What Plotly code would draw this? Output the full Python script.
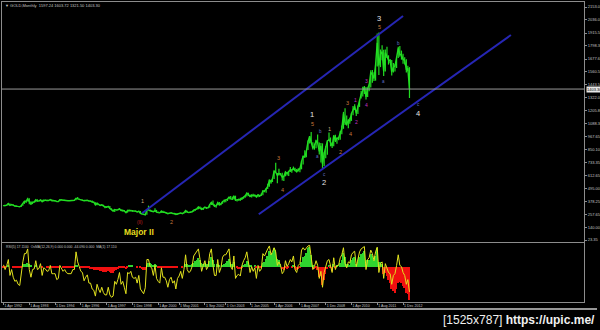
import pandas as pd
import plotly.graph_objects as go

# ---------------- DATA ----------------
dates = pd.date_range("1992-04-01", periods=253, freq="MS")

close = [
    337, 337, 343, 357, 340, 349, 339, 334, 333,
    330, 327, 337, 354, 378, 378, 401, 372, 355, 369, 371, 391,
    379, 381, 391, 376, 387, 386, 384, 385, 394, 383, 383, 383,
    375, 376, 392, 389, 385, 387, 384, 383, 383, 383, 387, 387,
    405, 400, 396, 392, 391, 382, 385, 387, 379, 379, 371, 369,
    345, 358, 349, 340, 345, 334, 326, 325, 332, 311, 296, 290,
    303, 297, 301, 308, 294, 296, 288, 273, 293, 292, 294, 288,
    287, 288, 280, 286, 268, 261, 255, 254, 299, 299, 291, 290,
    283, 293, 278, 274, 272, 288, 277, 277, 273, 264, 270, 273,
    265, 267, 258, 264, 266, 271, 265, 273, 293, 279, 275, 277,
    282, 297, 302, 309, 326, 318, 304, 313, 324, 316, 319, 347,
    368, 348, 335, 336, 364, 346, 354, 376, 385, 386, 398, 417,
    400, 396, 427, 388, 393, 395, 391, 407, 416, 428, 453, 438,
    422, 435, 428, 435, 418, 436, 429, 433, 473, 470, 495, 513,
    569, 556, 583, 654, 643, 614, 633, 623, 599, 604, 646, 632,
    650, 665, 662, 680, 659, 650, 666, 673, 743, 789, 783, 834,
    923, 972, 916, 864, 887, 928, 912, 833, 884, 718, 816, 882,
    928, 942, 917, 883, 979, 927, 955, 955, 1001, 1040, 1180, 1096,
    1081, 1118, 1113, 1180, 1212, 1244, 1181, 1246, 1307, 1357, 1386, 1421,
    1333, 1411, 1439, 1556, 1536, 1500, 1628, 1826, 1620, 1722, 1746, 1564,
    1737, 1697, 1668, 1664, 1559, 1604, 1614, 1692, 1774, 1719, 1714, 1675,
    1663, 1578, 1595, 1403.30,
]

high = [
    342, 341, 345, 362, 358, 352, 350, 341, 338,
    334, 333, 339, 358, 380, 381, 409, 406, 377, 372, 378, 392,
    396, 387, 393, 392, 391, 395, 392, 390, 397, 397, 391, 385,
    382, 378, 394, 396, 392, 392, 389, 386, 387, 387, 389, 389,
    406, 416, 402, 398, 394, 392, 388, 389, 389, 385, 384, 373,
    369, 366, 356, 347, 349, 345, 335, 331, 335, 335, 314, 300,
    306, 302, 303, 315, 305, 299, 297, 289, 300, 302, 300, 297,
    292, 294, 290, 292, 290, 269, 264, 264, 303, 338, 302, 294,
    290, 313, 299, 285, 276, 292, 291, 282, 278, 274, 272, 274,
    272, 269, 270, 265, 271, 274, 271, 275, 294, 291, 280, 281,
    282, 299, 303, 309, 327, 329, 321, 315, 326, 326, 323, 348,
    371, 384, 350, 341, 373, 371, 358, 377, 394, 395, 400, 417,
    427, 419, 429, 429, 395, 400, 409, 414, 419, 431, 456, 456,
    439, 439, 446, 437, 433, 443, 431, 448, 474, 479, 497, 538,
    574, 574, 588, 654, 730, 637, 676, 636, 638, 612, 650, 645,
    654, 690, 671, 695, 685, 672, 680, 685, 744, 791, 845, 838,
    934, 975, 1011, 918, 904, 940, 989, 915, 911, 907, 826, 883,
    936, 1006, 961, 917, 982, 985, 960, 967, 1019, 1070, 1195, 1227,
    1161, 1127, 1140, 1181, 1249, 1265, 1213, 1253, 1307, 1388, 1424, 1431,
    1423, 1412, 1447, 1575, 1577, 1556, 1632, 1912, 1921, 1765, 1804, 1763,
    1764, 1790, 1712, 1677, 1668, 1641, 1631, 1692, 1791, 1796, 1755, 1727,
    1695, 1675, 1617, 1603.72,
]

low = [
    334, 333, 336, 342, 339, 339, 338, 331, 330,
    327, 326, 326, 336, 354, 362, 375, 350, 344, 352, 367, 369,
    375, 375, 378, 370, 374, 383, 379, 380, 384, 384, 380, 375,
    371, 371, 377, 388, 384, 383, 382, 380, 381, 381, 383, 384,
    387, 398, 393, 390, 389, 380, 380, 384, 378, 377, 370, 365,
    345, 342, 346, 338, 339, 334, 314, 317, 320, 308, 295, 283,
    279, 295, 294, 301, 292, 284, 286, 271, 274, 290, 288, 283,
    282, 283, 278, 279, 270, 257, 252, 253, 254, 296, 288, 280,
    279, 282, 278, 274, 270, 272, 275, 270, 269, 264, 263, 265,
    262, 256, 257, 255, 266, 267, 266, 266, 272, 276, 271, 271,
    277, 282, 288, 300, 306, 311, 301, 299, 313, 307, 315, 318,
    343, 347, 325, 318, 341, 341, 342, 355, 366, 368, 380, 393,
    398, 391, 394, 383, 376, 383, 383, 389, 401, 410, 422, 426,
    418, 413, 424, 420, 413, 415, 418, 429, 432, 460, 456, 491,
    511, 539, 554, 582, 641, 543, 613, 616, 567, 562, 606, 613,
    608, 646, 639, 662, 652, 640, 649, 643, 670, 715, 778, 781,
    846, 905, 911, 850, 849, 862, 910, 806, 733, 681, 700, 770,
    803, 929, 880, 865, 881, 920, 904, 936, 940, 990, 1040, 1075,
    1071, 1045, 1087, 1112, 1163, 1212, 1156, 1176, 1240, 1316, 1335, 1358,
    1308, 1331, 1384, 1418, 1462, 1478, 1480, 1610, 1532, 1604, 1667, 1523,
    1563, 1688, 1627, 1642, 1527, 1555, 1564, 1596, 1687, 1698, 1672, 1635,
    1627, 1555, 1565, 1321.50,
]
last_open = 1597.24

rsi = [
    63, 55, 62, 72, 45, 55, 42, 35, 37,
    30, 28, 50, 68, 82, 82, 90, 55, 42, 55, 56, 70,
    55, 57, 65, 45, 58, 56, 52, 53, 62, 48, 48, 48,
    38, 40, 62, 58, 52, 55, 50, 48, 48, 48, 55, 55,
    85, 68, 60, 52, 50, 36, 42, 46, 32, 32, 22, 20,
    10, 30, 22, 16, 25, 16, 12, 12, 25, 12, 8, 10,
    35, 30, 38, 50, 30, 35, 25, 14, 50, 48, 52, 42,
    40, 42, 32, 45, 22, 18, 14, 24, 72, 72, 60, 58,
    45, 62, 40, 35, 32, 58, 42, 42, 36, 25, 38, 42,
    32, 36, 22, 40, 44, 52, 40, 55, 80, 55, 50, 52,
    60, 78, 82, 85, 90, 72, 52, 62, 70, 55, 60, 82,
    90, 62, 45, 45, 72, 50, 58, 76, 80, 80, 85, 90,
    60, 55, 78, 40, 45, 47, 44, 62, 70, 75, 85, 65,
    50, 60, 52, 58, 40, 62, 52, 56, 82, 78, 85, 90,
    95, 80, 85, 92, 85, 62, 68, 62, 48, 52, 70, 60,
    65, 72, 68, 78, 55, 50, 62, 65, 88, 92, 88, 92,
    95, 96, 75, 55, 60, 70, 62, 40, 52, 25, 50, 60,
    70, 72, 62, 50, 75, 55, 62, 62, 75, 80, 92, 65,
    58, 68, 66, 80, 84, 86, 60, 75, 85, 90, 92, 94,
    55, 72, 75, 88, 82, 70, 85, 93, 50, 65, 68, 40,
    65, 55, 50, 48, 30, 45, 48, 62, 80, 62, 60, 50,
    45, 30, 38, 17.11,
]

osma = [
    -1, -1, 0, 1, 0, 0, -1, -1, -1,
    -2, -2, -1, 1, 3, 4, 5, 3, 1, 0, 0, 1,
    0, 0, 0, -1, 0, 0, -1, -1, 0, -1, -1, -1,
    -1, -1, 0, 0, -1, -1, -1, -1, -1, -1, -1, -1,
    1, 1, 0, -1, -1, -2, -2, -2, -2, -3, -3, -4,
    -5, -5, -5, -6, -6, -7, -7, -7, -6, -7, -8, -8,
    -6, -5, -3, -1, -2, -1, -2, -3, -1, 1, 1, 1,
    0, 0, -1, 0, -1, -3, -4, -5, 2, 5, 5, 4,
    2, 3, 1, -1, -2, -1, -2, -2, -2, -2, -2, -2,
    -2, -2, -2, -1, 0, 0, -1, 0, 4, 3, 2, 2,
    3, 5, 7, 8, 11, 9, 5, 4, 5, 3, 3, 7,
    12, 8, 3, 0, 3, 1, 0, 2, 4, 5, 7, 10,
    6, 3, 6, 0, -2, -3, -3, -1, 1, 3, 7, 5,
    1, 1, 0, 1, -1, 0, -1, -1, 5, 6, 10, 14,
    20, 17, 18, 24, 22, 10, 8, 3, -3, -5, -1, -3,
    -2, 0, -1, 1, -2, -4, -3, -2, 6, 12, 14, 18,
    24, 26, 15, 2, -3, -1, -4, -14, -12, -24, -18, -10,
    -3, 2, -1, -6, 3, -1, 1, 0, 5, 9, 18, 12,
    4, 3, 1, 8, 11, 13, 3, 6, 12, 17, 18, 20,
    4, 8, 9, 17, 14, 8, 14, 24, 6, 6, 4, -10,
    -8, -12, -18, -22, -30, -32, -35, -30, -22, -20, -22, -26,
    -28, -35, -36, -44.09,
]

# price axis tick labels (right side)
price_ticks = [23.35, 140.00, 257.65, 378.25, 495.00, 612.65, 733.35, 850.10,
               967.65, 1088.3, 1205.8, 1322.0, 1443.5, 1560.5, 1677.6, 1798.3,
               1915.5, 2036.0, 2153.0]

# date axis tick labels
date_ticks = ["1992-04-01", "1993-08-01", "1994-12-01", "1996-04-01", "1997-08-01",
              "1998-12-01", "2000-04-01", "2001-05-01", "2002-09-01", "2003-10-01",
              "2005-01-01", "2006-04-01", "2007-08-01", "2008-12-01", "2010-04-01",
              "2011-08-01", "2012-12-01"]
date_tick_text = ["1 Apr 1992", "1 Aug 1993", "1 Dec 1994", "1 Apr 1996", "1 Aug 1997",
                  "1 Dec 1998", "1 Apr 2000", "1 May 2001", "1 Sep 2002", "1 Oct 2003",
                  "1 Jan 2005", "1 Apr 2006", "1 Aug 2007", "1 Dec 2008", "1 Apr 2010",
                  "1 Aug 2011", "1 Dec 2012"]

# channel lines (date, price)
upper_channel_dates = ["1999-06-01", "2012-12-01"]
upper_channel_prices = [268, 2071]
lower_channel_dates = ["2005-06-15", "2018-07-01"]
lower_channel_prices = [259, 1897]

# Elliott wave labels: (date, price, text, kind)
wave_labels = [
    ("1999-04-01", 97, "Major II", "major"),
    ("1999-04-20", 182, "(II)", "red"),
    ("1999-06-01", 380, "1", "tan"),
    ("2000-12-01", 188, "2", "orange"),
    ("2006-06-13", 773, "3", "orange"),
    ("2006-09-15", 481, "4", "orange"),
    ("2008-03-15", 1175, "1", "white"),
    ("2008-04-01", 1084, "5", "orange"),
    ("2008-08-15", 1011, "b", "blue"),
    ("2008-06-20", 783, "a", "blue"),
    ("2009-02-01", 1038, "1", "tan"),
    ("2009-08-28", 828, "2", "orange"),
    ("2008-11-01", 618, "c", "blue"),
    ("2008-11-01", 545, "2", "white"),
    ("2010-01-07", 1276, "3", "orange"),
    ("2010-03-20", 993, "4", "orange"),
    ("2010-06-25", 1303, "1", "magenta"),
    ("2010-07-12", 1102, "2", "magenta"),
    ("2011-01-01", 1477, "3", "magenta"),
    ("2011-01-18", 1257, "4", "magenta"),
    ("2011-09-04", 2044, "3", "white"),
    ("2011-09-04", 1971, "5", "orange"),
    ("2012-09-15", 1824, "b", "blue"),
    ("2011-12-06", 1477, "a", "blue"),
    ("2013-09-10", 1266, "c", "blue"),
    ("2013-09-10", 1184, "4", "white"),
]

# ---------------- STYLE ----------------
W, H = 600, 330
BG = "#000000"
GREEN = "#22dd22"
BLUE = "#2626b4"
BORDER = "#8c8c8c"
TXT = "#c4c4c4"
FONT = "Liberation Sans"

label_style = {
    "major": dict(color="#e6dc1e", size=8.5, bold=True),
    "red": dict(color="#c82020", size=4.5, bold=False),
    "tan": dict(color="#d2aa78", size=5.5, bold=False),
    "orange": dict(color="#c8783c", size=5.5, bold=False),
    "white": dict(color="#e6e6e6", size=7.5, bold=False),
    "blue": dict(color="#6070c8", size=4.5, bold=False),
    "magenta": dict(color="#c032c0", size=5, bold=False),
}

def py(p):  # pixel y (from top) -> paper fraction
    return 1 - p / H

x_dom = [2 / W, 584 / W]
main_dom = [py(242), py(2)]
ind_dom = [py(302), py(243)]
x_range = ["1992-03-03", "2022-04-12"]

fig = go.Figure()

# price bars (close line + high/low ranges)
fig.add_trace(go.Scatter(
    x=dates, y=close, mode="lines",
    line=dict(color=GREEN, width=1.4),
    error_y=dict(type="data", symmetric=False,
                 array=[h - c for h, c in zip(high, close)],
                 arrayminus=[c - l for c, l in zip(close, low)],
                 width=0, thickness=1.2, color=GREEN),
    xaxis="x", yaxis="y", hoverinfo="skip", showlegend=False))

# channel lines
fig.add_trace(go.Scatter(x=upper_channel_dates, y=upper_channel_prices, mode="lines",
                         line=dict(color=BLUE, width=2), xaxis="x", yaxis="y",
                         showlegend=False, hoverinfo="skip"))
fig.add_trace(go.Scatter(x=lower_channel_dates, y=lower_channel_prices, mode="lines",
                         line=dict(color=BLUE, width=2), xaxis="x", yaxis="y",
                         showlegend=False, hoverinfo="skip"))

# OsMA histogram
fig.add_trace(go.Bar(
    x=dates, y=osma,
    marker=dict(color=["#2fd42f" if v >= 0 else "#f01010" for v in osma], line=dict(width=0)),
    xaxis="x2", yaxis="y2", showlegend=False, hoverinfo="skip"))

# RSI line
fig.add_trace(go.Scatter(x=dates, y=rsi, mode="lines",
                         line=dict(color="#e2e21e", width=1),
                         xaxis="x2", yaxis="y3", showlegend=False, hoverinfo="skip"))

axis_common = dict(showline=True, mirror=True, linecolor=BORDER, linewidth=1,
                   showgrid=False, zeroline=False)

fig.update_layout(
    width=W, height=H,
    margin=dict(l=0, r=0, t=0, b=0),
    paper_bgcolor=BG, plot_bgcolor=BG,
    font=dict(family=FONT, color=TXT, size=4),
    bargap=0,
    xaxis=dict(domain=x_dom, anchor="y", type="date", range=x_range,
               showticklabels=False, ticks="", **axis_common),
    yaxis=dict(domain=main_dom, anchor="x", side="right", range=[5.6, 2199],
               tickvals=price_ticks,
               ticktext=[f"{v:.2f}" if v < 1000 else f"{v:.1f}" for v in price_ticks],
               ticks="outside", ticklen=2, tickcolor=BORDER,
               tickfont=dict(size=4, color=TXT, family=FONT), **axis_common),
    xaxis2=dict(domain=x_dom, anchor="y2", type="date", range=x_range,
                tickvals=date_ticks, ticktext=date_tick_text, tickangle=0,
                ticks="outside", ticklen=2, tickcolor=BORDER,
                ticklabelposition="outside right",
                tickfont=dict(size=3.6, color=TXT, family=FONT), **axis_common),
    yaxis2=dict(domain=ind_dom, anchor="x2", range=[-46.6, 31],
                showticklabels=False, ticks="", **axis_common),
    yaxis3=dict(overlaying="y2", anchor="x2", range=[0, 100], visible=False),
)

# current price line and box
last_close = close[-1]
fig.add_shape(type="line", xref="x domain", x0=0, x1=1, yref="y",
              y0=last_close, y1=last_close, line=dict(color="#9a9a9a", width=1))
fig.add_annotation(xref="x domain", x=1.004, yref="y", y=last_close,
                   text=f"{last_close:.2f}", showarrow=False, xanchor="left",
                   yanchor="middle", bgcolor="#e8e8e8", borderpad=0,
                   font=dict(size=4, color="#000000", family=FONT))

# wave labels
for d, p, t, k in wave_labels:
    st = label_style[k]
    fig.add_annotation(x=d, y=p, xref="x", yref="y",
                       text=f"<b>{t}</b>" if st["bold"] else t, showarrow=False,
                       xanchor="center", yanchor="middle",
                       font=dict(size=st["size"], color=st["color"], family=FONT))

# header texts
fig.add_annotation(xref="paper", yref="paper", x=3 / W, y=py(5.2), xanchor="left",
                   yanchor="middle", showarrow=False,
                   text=f"\u25bc GOLD,Monthly  {last_open:.2f} {high[-1]:.2f} {low[-1]:.2f} {close[-1]:.2f}",
                   font=dict(size=4, color=TXT, family=FONT))
fig.add_annotation(xref="paper", yref="paper", x=4 / W, y=py(246.5), xanchor="left",
                   yanchor="middle", showarrow=False,
                   text=f"RSI(5) {rsi[-1]:.4f}  OsMA(12,26,9) 0.000 0.000 {osma[-1]:.3f} 0.000  MA(1) {rsi[-1]:.3f}",
                   font=dict(size=3.4, color=TXT, family=FONT))

# bottom window line
fig.add_shape(type="line", xref="paper", yref="paper", x0=0, x1=597 / W,
              y0=py(309), y1=py(309), line=dict(color="#c8c8c8", width=1.5))

# watermark
fig.add_annotation(xref="paper", yref="paper", x=597 / W, y=py(320), xanchor="right",
                   yanchor="middle", showarrow=False,
                   text="[1525x787] <b>https://upic.me/</b>",
                   font=dict(size=12, color="#f0f0f0", family=FONT))

fig.write_html("out.html")
